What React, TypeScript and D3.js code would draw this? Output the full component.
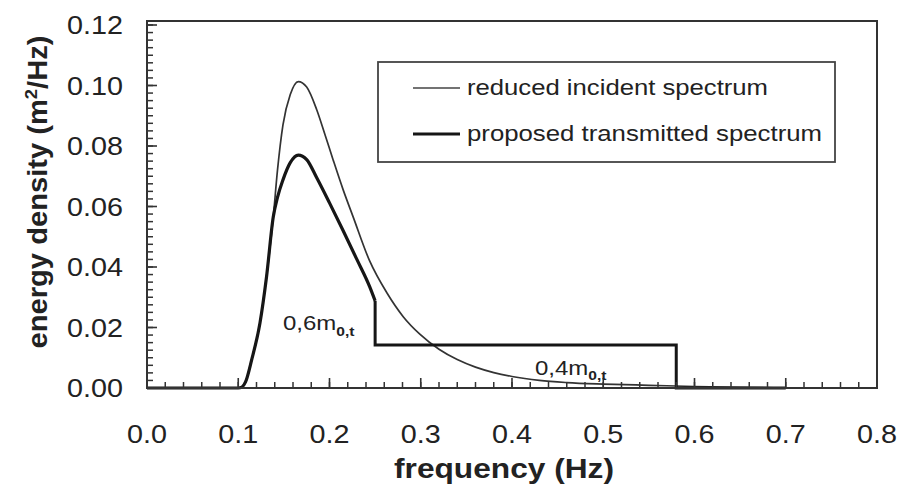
import React from "react";
import * as d3 from "d3";

// Reduced incident spectrum (thin line)
const incidentFreq = [0, 0.05, 0.1, 0.104, 0.108, 0.1147, 0.1238, 0.131, 0.1384, 0.143, 0.149, 0.157, 0.1658, 0.175, 0.186, 0.195, 0.204, 0.215, 0.226, 0.244, 0.263, 0.281, 0.299, 0.32, 0.34, 0.36, 0.38, 0.4, 0.43, 0.46, 0.5, 0.55, 0.6, 0.65, 0.7];
const incidentEnergy = [0, 0, 0, 0.0003, 0.002, 0.0093, 0.0215, 0.0368, 0.0566, 0.072, 0.087, 0.097, 0.1013, 0.0995, 0.092, 0.0838, 0.0754, 0.0655, 0.0565, 0.042, 0.0314, 0.0235, 0.0178, 0.0128, 0.0094, 0.0069, 0.0051, 0.0038, 0.0025, 0.0018, 0.0013, 0.0009, 0.0005, 0.0002, 0];

// Proposed transmitted spectrum (thick line): smooth part
const transFreq = [0, 0.1, 0.104, 0.108, 0.1147, 0.1238, 0.131, 0.1384, 0.143, 0.149, 0.157, 0.1658, 0.175, 0.186, 0.2, 0.215, 0.23, 0.244, 0.25];
const transEnergy = [0, 0, 0.0003, 0.002, 0.0093, 0.0215, 0.0368, 0.0566, 0.063, 0.0688, 0.0745, 0.077, 0.0755, 0.0695, 0.0612, 0.052, 0.0425, 0.0335, 0.0288];
// Proposed transmitted spectrum: step part
const stepFreq = [0.25, 0.25, 0.58, 0.58, 0.7];
const stepEnergy = [0.0288, 0.0142, 0.0142, 0, 0];

const xTickValues = [0, 0.1, 0.2, 0.3, 0.4, 0.5, 0.6, 0.7, 0.8];
const xTickLabels = ["0.0", "0.1", "0.2", "0.3", "0.4", "0.5", "0.6", "0.7", "0.8"];
const yTickValues = [0, 0.02, 0.04, 0.06, 0.08, 0.1, 0.12];
const yTickLabels = ["0.00", "0.02", "0.04", "0.06", "0.08", "0.10", "0.12"];
const legendLabels = ["reduced incident spectrum", "proposed transmitted spectrum"];

const FONT = "'Liberation Sans', Arial, Helvetica, sans-serif";
const INK = "#222";

export default function App() {
  const W = 901;
  const H = 493;
  const left = 147, right = 877, top = 21, bottom = 388;
  const x = d3.scaleLinear().domain([0, 0.8]).range([left, right]);
  const y = d3.scaleLinear().domain([0, 0.12]).range([bottom, 25]);

  const smooth = (fx: number[], fy: number[]) =>
    d3.line<number>().x((_, i) => x(fx[i])).y((_, i) => y(fy[i])).curve(d3.curveMonotoneX)(fx.map((_, i) => i)) || "";
  const straight = (fx: number[], fy: number[]) =>
    d3.line<number>().x((_, i) => x(fx[i])).y((_, i) => y(fy[i]))(fx.map((_, i) => i)) || "";

  const xMinor = d3.range(0, 0.8001, 0.02);
  const yMinor = d3.range(0, 0.1201, 0.0025);

  return (
    <svg width={W} height={H} style={{ position: "absolute", left: 0, top: 0, background: "#fff" }} fontFamily={FONT}>
      <rect x={0} y={0} width={W} height={H} fill="#fff" />

      {/* curves */}
      <path d={smooth(incidentFreq, incidentEnergy)} fill="none" stroke="#333" strokeWidth={1.7} />
      <path d={smooth(transFreq, transEnergy)} fill="none" stroke="#161616" strokeWidth={3.2} strokeLinejoin="round" />
      <path d={straight(stepFreq, stepEnergy)} fill="none" stroke="#161616" strokeWidth={3} strokeLinejoin="miter" />

      {/* ticks */}
      {yMinor.map((v, i) => (
        <line key={"ym" + i} x1={left} x2={left + 6} y1={y(v)} y2={y(v)} stroke="#333" strokeWidth={1.5} />
      ))}
      {yTickValues.map((v, i) => (
        <line key={"yM" + i} x1={left} x2={left + 10} y1={y(v)} y2={y(v)} stroke="#333" strokeWidth={1.6} />
      ))}
      {xMinor.map((v, i) => (
        <line key={"xm" + i} x1={x(v)} x2={x(v)} y1={bottom} y2={bottom - 6} stroke="#333" strokeWidth={1.5} />
      ))}
      {xTickValues.map((v, i) => (
        <line key={"xM" + i} x1={x(v)} x2={x(v)} y1={bottom} y2={bottom - 10} stroke="#333" strokeWidth={1.6} />
      ))}

      {/* frame */}
      <rect x={left} y={top} width={right - left} height={bottom - top} fill="none" stroke="#333" strokeWidth={2} />

      {/* legend */}
      <rect x={378} y={62} width={457} height={100} fill="#fff" stroke="#444" strokeWidth={1.8} />
      <line x1={413} x2={460} y1={88} y2={88} stroke="#444" strokeWidth={1.7} />
      <line x1={413} x2={460} y1={134} y2={134} stroke="#161616" strokeWidth={3.2} />
      <text x={467} y={95} fontSize={22} fill={INK} textLength={301} lengthAdjust="spacingAndGlyphs">{legendLabels[0]}</text>
      <text x={467} y={141} fontSize={22} fill={INK} textLength={355} lengthAdjust="spacingAndGlyphs">{legendLabels[1]}</text>

      {/* annotations */}
      <text transform={`translate(283,330) scale(1.2,1)`} fontSize={20} fill={INK}>
        0,6m<tspan dy={6} fontSize={13} fontWeight="bold">0,t</tspan>
      </text>
      <text transform={`translate(535,375) scale(1.2,1)`} fontSize={20} fill={INK}>
        0,4m<tspan dy={5} fontSize={13} fontWeight="bold">0,t</tspan>
      </text>

      {/* tick labels */}
      {yTickValues.map((v, i) => (
        <text key={"yl" + i} transform={`translate(123,${y(v) + 9}) scale(1.15,1)`} textAnchor="end" fontSize={25} fill={INK}>
          {yTickLabels[i]}
        </text>
      ))}
      {xTickValues.map((v, i) => (
        <text key={"xl" + i} transform={`translate(${x(v)},443) scale(1.15,1)`} textAnchor="middle" fontSize={25} fill={INK}>
          {xTickLabels[i]}
        </text>
      ))}

      {/* axis titles */}
      <text x={504} y={478} textAnchor="middle" fontSize={28} fontWeight="bold" fill={INK} textLength={220} lengthAdjust="spacingAndGlyphs">
        frequency (Hz)
      </text>
      <text transform="translate(47,192) rotate(-90)" textAnchor="middle" fontSize={27} fontWeight="bold" fill={INK} textLength={313} lengthAdjust="spacingAndGlyphs">
        energy density (m<tspan dy={-10} fontSize={17}>2</tspan><tspan dy={10}>/Hz)</tspan>
      </text>
    </svg>
  );
}
